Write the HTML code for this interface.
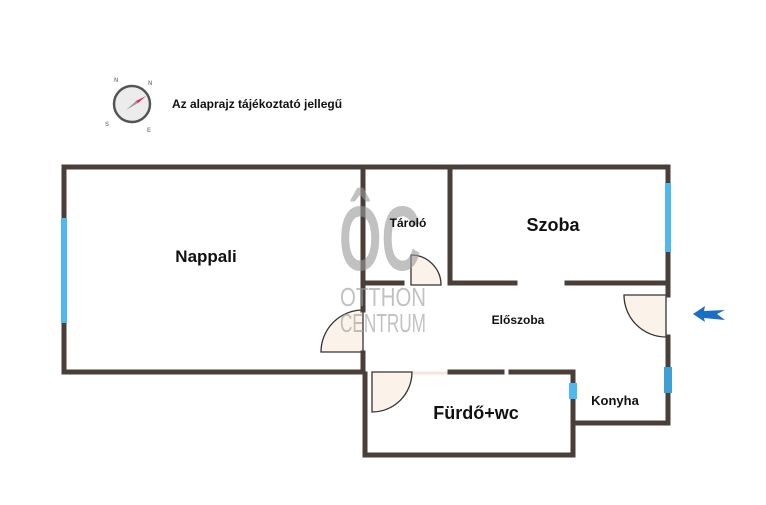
<!DOCTYPE html>
<html><head><meta charset="utf-8"><style>
html,body{margin:0;padding:0;background:#fff;}
svg text{font-family:"Liberation Sans",sans-serif;font-weight:bold;fill:#111;}
</style></head><body>
<svg width="766" height="500" viewBox="0 0 766 500" xmlns="http://www.w3.org/2000/svg">
<!-- doors -->
<g fill="#fbf3ea" stroke="#333" stroke-width="1.3">
<path d="M363 352 L363 310 A42 42 0 0 0 321 352 Z"/>
<path d="M411 285 L411 255 A30 30 0 0 1 441 285 Z"/>
<path d="M372 372 L412 372 A40 40 0 0 1 372 412 Z"/>
<path d="M666 295 L624 295 A42 42 0 0 0 666 337 Z"/>
</g>
<line x1="413" y1="373" x2="450" y2="373" stroke="#f3e6da" stroke-width="3"/>
<!-- walls -->
<g stroke="#4a3f38" stroke-width="5" fill="none" stroke-linecap="square">
<path d="M64 167 L668 167 L668 295"/>
<path d="M668 337 L668 423 L573 423 L573 455 L365 455 L365 374"/>
<path d="M64 167 L64 372 L363 372"/>
<path d="M363 167 L363 310"/>
<path d="M363 353 L363 372"/>
<path d="M450 167 L450 283 L515 283"/>
<path d="M567 283 L668 283"/>
<path d="M363 283 L402 283"/>
<path d="M450 372 L502 372"/>
<path d="M511 372 L573 372 L573 423"/>
</g>
<!-- watermark -->
<g opacity="0.6">
<text x="339" y="270" font-size="92" textLength="82" lengthAdjust="spacingAndGlyphs" style="font-weight:bold;fill:#999">ÔC</text>
<text x="340" y="306" font-size="26" textLength="86" lengthAdjust="spacingAndGlyphs" style="font-weight:normal;fill:#999">OTTHON</text>
<text x="340" y="332" font-size="26" textLength="86" lengthAdjust="spacingAndGlyphs" style="font-weight:normal;fill:#999">CENTRUM</text>
</g>
<!-- windows -->
<g fill="#4fb8ee">
<rect x="61" y="218" width="6" height="105"/>
<rect x="665" y="183" width="6" height="69"/>
<rect x="664" y="367" width="8" height="26" fill="#3fa0d6"/>
<rect x="569" y="383" width="8" height="16"/>
</g>
<!-- labels -->
<text x="206" y="262" font-size="17" text-anchor="middle">Nappali</text>
<text x="408" y="227" font-size="12" text-anchor="middle">Tároló</text>
<text x="553" y="231" font-size="18" text-anchor="middle">Szoba</text>
<text x="518" y="324" font-size="12" text-anchor="middle">Előszoba</text>
<text x="476" y="419" font-size="18" text-anchor="middle">Fürdő+wc</text>
<text x="615" y="405" font-size="13" text-anchor="middle">Konyha</text>
<text x="172" y="108" font-size="12">Az alaprajz tájékoztató jellegű</text>
<!-- compass -->
<g>
<circle cx="132" cy="104" r="18" fill="#ececec" stroke="#555" stroke-width="2.5"/>
<polygon points="126,110 136,101 138,103" fill="#999"/>
<polygon points="136,101 146,96 138,103" fill="#e0245e"/>
<text x="114" y="82" font-size="6" style="fill:#888">N</text>
<text x="148" y="85" font-size="6" style="fill:#888">N</text>
<text x="105" y="126" font-size="6" style="fill:#888">S</text>
<text x="147" y="132" font-size="6" style="fill:#888">E</text>
</g>
<!-- entrance arrow -->
<polygon points="693,314 705,306 704,311 725,310 717,314 725,320 704,318 705,322" fill="#1a6fc4"/>
</svg>
</body></html>
